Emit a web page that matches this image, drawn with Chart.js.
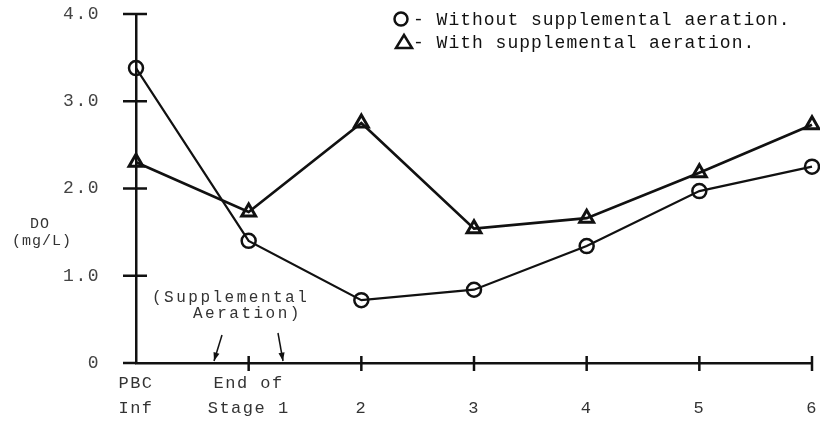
<!DOCTYPE html>
<html>
<head>
<meta charset="utf-8">
<script src="https://cdn.jsdelivr.net/npm/chart.js@4"></script>
<style>
  html, body { margin: 0; padding: 0; background: #fff; }
  #wrap { width: 820px; height: 423px; position: relative; }
</style>
</head>
<body>
<div id="wrap"><canvas id="chartDO"></canvas></div>
<script>
// stations along the treatment train
const stations = [['PBC', 'Inf'], ['End of', 'Stage 1'], ['', '2'], ['', '3'], ['', '4'], ['', '5'], ['', '6']];
// DO (mg/L)
const withoutAeration = [3.38, 1.40, 0.72, 0.84, 1.34, 1.97, 2.25];
const withAeration = [2.30, 1.73, 2.75, 1.54, 1.66, 2.18, 2.73];
const yTicks = [0, 1, 2, 3, 4];
const seriesLabels = ['- Without supplemental aeration.', '- With supplemental aeration.'];
const yTitle = ['DO', '(mg/L)'];
const note = ['(Supplemental', 'Aeration)'];

const ink = '#111';
const mono = '"Liberation Mono", "DejaVu Sans Mono", monospace';

const arrow = (ctx, x1, y1, x2, y2) => {
  const ang = Math.atan2(y2 - y1, x2 - x1);
  ctx.beginPath(); ctx.moveTo(x1, y1); ctx.lineTo(x2, y2); ctx.stroke();
  ctx.beginPath();
  ctx.moveTo(x2, y2);
  ctx.lineTo(x2 - 9 * Math.cos(ang - 0.35), y2 - 9 * Math.sin(ang - 0.35));
  ctx.lineTo(x2 - 9 * Math.cos(ang + 0.35), y2 - 9 * Math.sin(ang + 0.35));
  ctx.closePath(); ctx.fill();
};

const marks = {
  id: 'marks',
  beforeDraw(chart) { chart.ctx.letterSpacing = '1.5px'; },
  afterDraw(chart) {
    const { ctx, chartArea: a, scales: { x, y } } = chart;
    ctx.save();
    ctx.strokeStyle = ink; ctx.fillStyle = ink; ctx.lineWidth = 2.5;

    // ticks crossing the axes
    yTicks.forEach(v => {
      if (!v) return;
      const py = y.getPixelForValue(v);
      ctx.beginPath(); ctx.moveTo(a.left - 13, py); ctx.lineTo(a.left + 11, py); ctx.stroke();
    });
    stations.forEach((s, i) => {
      if (!i) return;
      const px = x.getPixelForValue(i);
      ctx.beginPath(); ctx.moveTo(px, a.bottom - 7); ctx.lineTo(px, a.bottom + 8); ctx.stroke();
    });
    // x axis runs a little past the y axis
    ctx.beginPath(); ctx.moveTo(a.left - 13, a.bottom); ctx.lineTo(a.left, a.bottom); ctx.stroke();

    // y title, horizontal
    ctx.fillStyle = '#333';
    ctx.font = '15px ' + mono; ctx.letterSpacing = '1px';
    ctx.textAlign = 'center'; ctx.textBaseline = 'middle';
    ctx.fillText(yTitle[0], 40, 224);
    ctx.fillText(yTitle[1], 42, 241);

    // supplemental aeration note + arrows
    ctx.font = '16px ' + mono; ctx.letterSpacing = '2.5px';
    ctx.textAlign = 'left';
    ctx.fillText(note[0], a.left + 16, 298);
    ctx.fillText(note[1], a.left + 57, 314);
    ctx.lineWidth = 1.5; ctx.fillStyle = ink;
    arrow(ctx, 222, 335, 214, 361);
    arrow(ctx, 278, 333, 283, 361);

    // legend
    ctx.font = '18px ' + mono; ctx.letterSpacing = '1px';
    ctx.lineWidth = 2.5;
    ctx.beginPath(); ctx.arc(401, 19, 6.5, 0, Math.PI * 2); ctx.stroke();
    ctx.beginPath(); ctx.moveTo(404, 35); ctx.lineTo(412, 48); ctx.lineTo(396, 48); ctx.closePath(); ctx.stroke();
    ctx.fillText(seriesLabels[0], 413, 20);
    ctx.fillText(seriesLabels[1], 413, 43);
    ctx.restore();
  }
};

new Chart(document.getElementById('chartDO'), {
  type: 'line',
  data: {
    labels: stations,
    datasets: [
      { label: seriesLabels[0], data: withoutAeration, borderColor: ink, borderWidth: 2.2, clip: false,
        pointStyle: 'circle', pointRadius: 7, pointBorderWidth: 2.5, pointBackgroundColor: 'rgba(0,0,0,0)', pointBorderColor: ink },
      { label: seriesLabels[1], data: withAeration, borderColor: ink, borderWidth: 2.7, clip: false,
        pointStyle: 'triangle', pointRadius: 8, pointBorderWidth: 3, pointBackgroundColor: 'rgba(0,0,0,0)', pointBorderColor: ink }
    ]
  },
  options: {
    responsive: true, maintainAspectRatio: false, animation: false,
    layout: { autoPadding: false, padding: { top: 14, right: 8, left: 0, bottom: 0 } },
    plugins: { legend: { display: false }, tooltip: { enabled: false } },
    scales: {
      x: {
        offset: false,
        grid: { display: false },
        border: { display: true, color: ink, width: 2.5 },
        ticks: { color: '#333', padding: 0, autoSkip: false, maxRotation: 0, font: { family: mono, size: 17, lineHeight: 1.47 } },
        afterFit: s => { s.height = 60; s.paddingLeft = 0; s.paddingRight = 0; }
      },
      y: {
        min: 0, max: 4,
        grid: { display: false },
        border: { display: true, color: ink, width: 2.5 },
        ticks: { stepSize: 1, color: '#444', padding: 28, font: { family: mono, size: 18 },
          callback: v => v === 0 ? '0' : v.toFixed(1) },
        afterFit: s => { s.width = 136; s.paddingTop = 0; s.paddingBottom = 0; }
      }
    }
  },
  plugins: [marks]
});
</script>
</body>
</html>
